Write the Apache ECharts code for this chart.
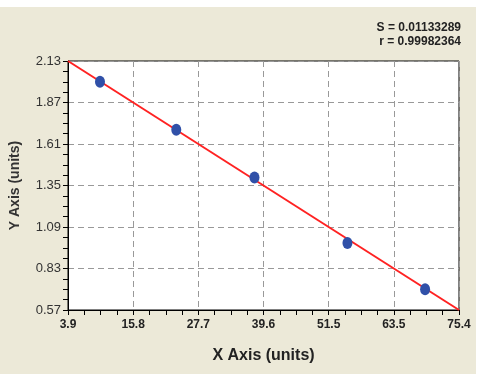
<!DOCTYPE html>
<html>
<head>
<meta charset="utf-8">
<script src="https://cdn.jsdelivr.net/npm/echarts@6/dist/echarts.min.js"></script>
<style>html,body{margin:0;padding:0;background:#fff;}#c{width:498px;height:380px;}</style>
</head>
<body>
<div id="c"></div>
<script>
// Data
const xValues = [9.75, 23.7, 38.0, 55.0, 69.2];
const yValues = [2.00, 1.70, 1.40, 0.99, 0.70];
const fitX = [3.9, 75.4];
const fitY = [2.13, 0.57];
const xTickLabels = ['3.9', '15.8', '27.7', '39.6', '51.5', '63.5', '75.4'];
const yTickLabels = ['0.57', '0.83', '1.09', '1.35', '1.61', '1.87', '2.13'];
const statS = 'S = 0.01133289';
const statR = 'r = 0.99982364';

const xMin = 3.9, xMax = 75.4, yMin = 0.57, yMax = 2.13;
const xRange = xMax - xMin, yRange = yMax - yMin;

const pts = xValues.map((x, i) => [x - xMin, yValues[i] - yMin]);
const fit = fitX.map((x, i) => [x - xMin, fitY[i] - yMin]);

const chart = echarts.init(document.getElementById('c'), null, {renderer: 'canvas'});
const font = '"Liberation Sans", Arial, sans-serif';
chart.setOption({
  backgroundColor: '#ffffff',
  animation: false,
  graphic: [
    {type: 'rect', z: -10, shape: {x: 0, y: 7, width: 476, height: 367}, style: {fill: '#ECE9D8'}},
    {type: 'text', right: 37, top: 22, z: 10, style: {text: statS, font: 'bold 12px ' + font, fill: '#222', textAlign: 'right'}},
    {type: 'text', right: 37, top: 36, z: 10, style: {text: statR, font: 'bold 12px ' + font, fill: '#222', textAlign: 'right'}}
  ],
  grid: {left: 65, right: 39, top: 61, bottom: 70, show: true, backgroundColor: '#ffffff', borderColor: '#000', borderWidth: 1},
  xAxis: {
    type: 'value', min: 0, max: xRange, interval: xRange / 6,
    name: 'X Axis (units)', nameLocation: 'middle', nameGap: 38,
    nameTextStyle: {fontFamily: font, fontSize: 16, fontWeight: 'bold', color: '#222'},
    axisLine: {show: true, lineStyle: {color: '#000', width: 1}},
    axisTick: {show: true, inside: false, length: 5, lineStyle: {color: '#000'}},
    minorTick: {show: true, splitNumber: 4, length: 5, lineStyle: {color: '#000'}},
    axisLabel: {fontFamily: font, fontSize: 12, fontWeight: 'bold', color: '#222', margin: 9,
      formatter: (v, i) => xTickLabels[Math.round(v / (xRange / 6))]},
    splitLine: {show: true, lineStyle: {color: '#999', type: [6, 4], width: 1}}
  },
  yAxis: {
    type: 'value', min: 0, max: yRange, interval: yRange / 6,
    name: 'Y Axis (units)', nameLocation: 'middle', nameGap: 46, nameRotate: 90,
    nameTextStyle: {fontFamily: font, fontSize: 14, fontWeight: 'bold', color: '#333'},
    axisLine: {show: true, lineStyle: {color: '#000', width: 1}},
    axisTick: {show: true, inside: false, length: 5, lineStyle: {color: '#000'}},
    minorTick: {show: true, splitNumber: 4, length: 5, lineStyle: {color: '#000'}},
    axisLabel: {fontFamily: font, fontSize: 13, color: '#333', margin: 7,
      formatter: (v) => yTickLabels[Math.round(v / (yRange / 6))]},
    splitLine: {show: true, lineStyle: {color: '#999', type: [6, 4], width: 1}}
  },
  series: [
    {type: 'line', data: fit, symbol: 'none', lineStyle: {color: '#ff2222', width: 2}, z: 3, silent: true},
    {type: 'scatter', data: pts, symbol: 'circle', symbolSize: [10, 12], itemStyle: {color: '#3050a8', opacity: 1}, z: 4}
  ]
});
</script>
</body>
</html>
